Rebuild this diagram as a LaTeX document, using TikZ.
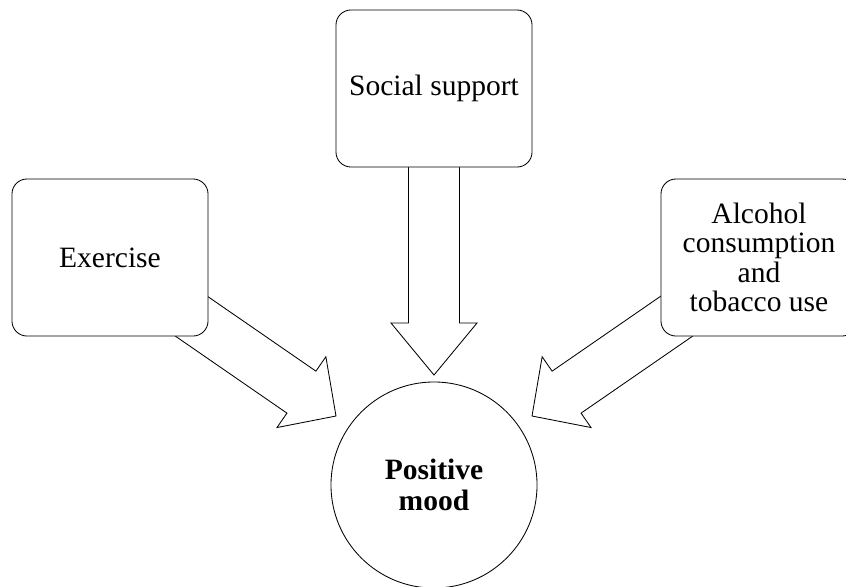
\documentclass[tikz,border=0pt]{standalone}
\usepackage{fontspec}
\setmainfont{Liberation Serif}
\usetikzlibrary{calc,backgrounds}

\tikzset{
  factor/.style={draw,rounded corners=0.375cm,fill=white,line width=0.6pt,
    minimum width=4.9cm,minimum height=3.925cm,align=center,
    font=\fontsize{21}{21}\selectfont},
  outcome/.style={draw,circle,fill=white,line width=0.6pt,minimum size=5.15cm,
    align=center,font=\bfseries\fontsize{21}{21.5}\selectfont},
}
% hollow block arrow from #1 to tip #2, head length #3
\newcommand{\hollowarrow}[3]{%
  \path ($(#2)!#3!(#1)$) coordinate (hb);
  \draw[line width=0.6pt] ($(#1)!0.6375cm!90:(#2)$) -- ($(hb)!0.6375cm!90:(#2)$)
    -- ($(hb)!1.075cm!90:(#2)$) -- (#2) -- ($(hb)!1.075cm!-90:(#2)$)
    -- ($(hb)!0.6375cm!-90:(#2)$) -- ($(#1)!0.6375cm!-90:(#2)$);
}

\begin{document}
\begin{tikzpicture}[x=0.025cm,y=-0.025cm]
  \useasboundingbox (0,0) rectangle (846,586);

  \node[factor]  (exercise) at (110,257.5) {Exercise};
  \node[factor]  (social)   at (434,88.5)  {Social support};
  \node[factor]  (alcohol)  at (759,257.5) {Alcohol\\consumption\\and\\tobacco use};
  \node[outcome] (mood)     at (434,485)   {Positive\\mood};

  \coordinate (ex-s) at (171.4,302.4);
  \coordinate (ex-t) at (336,416);
  \coordinate (so-s) at (434,120);
  \coordinate (so-t) at (434,375);
  \coordinate (al-s) at (696.6,302.4);
  \coordinate (al-t) at (532,416);

  \begin{scope}[on background layer]
    \hollowarrow{ex-s}{ex-t}{1.05cm}
    \hollowarrow{so-s}{so-t}{1.3cm}
    \hollowarrow{al-s}{al-t}{1.05cm}
  \end{scope}
\end{tikzpicture}
\end{document}
